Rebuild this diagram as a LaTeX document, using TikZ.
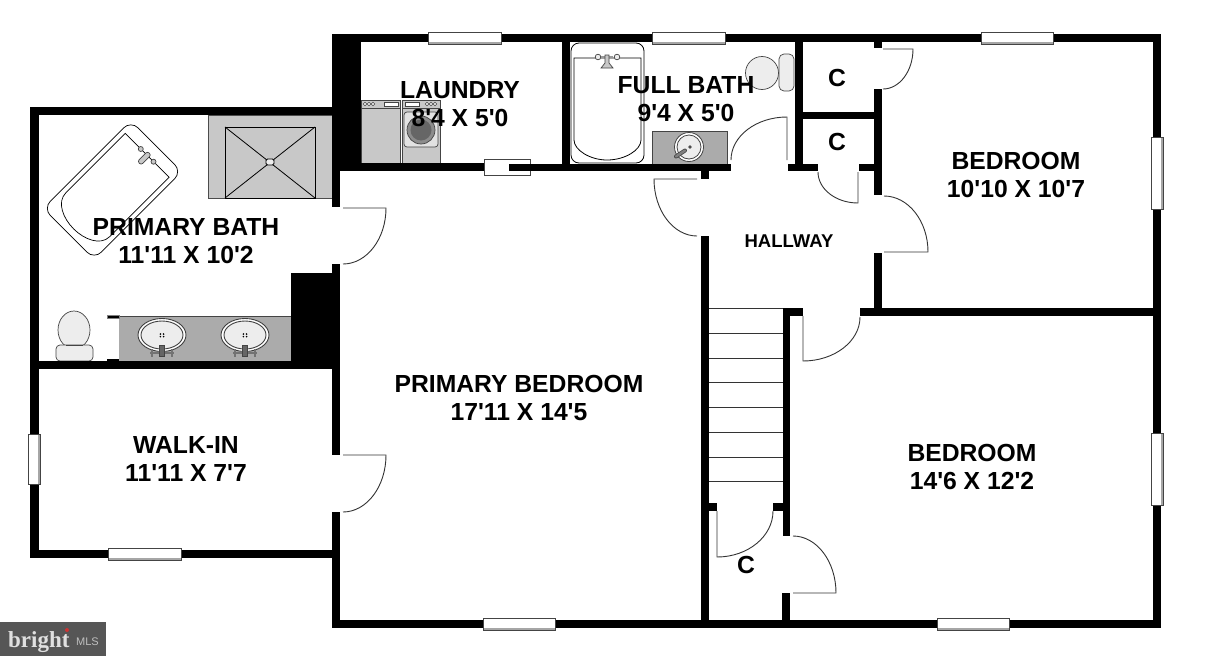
\documentclass[tikz,border=0pt]{standalone}
\usepackage{fontspec}
\setmainfont{Liberation Sans}
\newfontfamily\lblfont{Liberation Sans}
\newfontfamily\logofont{Liberation Serif}
\usetikzlibrary{calc}
\definecolor{fixgray}{HTML}{C8C8C8}
\definecolor{vangray}{HTML}{ABABAB}
\definecolor{porcelain}{HTML}{EDEDED}
\definecolor{outl}{HTML}{444444}
\definecolor{logobg}{HTML}{565656}
\tikzset{
  fixture/.style={draw=outl,line width=.7pt},
  thin fixture/.style={draw=black,line width=.8pt},
  doorline/.style={draw=black!80,line width=.9pt},
  roomlabel/.style={font=\lblfont\fontsize{24.7}{28}\selectfont\bfseries,align=center,text=black,inner sep=0pt},
  halllabel/.style={font=\lblfont\fontsize{18.5}{20}\selectfont\bfseries,text=black,inner sep=0pt},
}
\newcommand{\wall}[4]{\fill[black] (#1,#2) rectangle (#3,#4);}
\newcommand{\hwin}[3]{%
  \fill[white] (#1,#3-6) rectangle (#2,#3+6);
  \fill[gray!70] (#1,#3+4) rectangle (#2,#3+6);
  \draw[outl,line width=.7pt] (#1,#3-6) rectangle (#2,#3+6);}
\newcommand{\vwin}[3]{%
  \fill[white] (#3-6,#1) rectangle (#3+6,#2);
  \fill[gray!70] (#3+4,#1) rectangle (#3+6,#2);
  \draw[outl,line width=.7pt] (#3-6,#1) rectangle (#3+6,#2);}
\newcommand{\door}[4]{\draw[doorline] (#1) -- (#2) .. controls ($(#2)!0.552!(#3)$) and ($(#4)!0.552!(#3)$) .. (#4);}
\newcommand{\vansink}[1]{%
  \draw[fill=white,draw=black!75,line width=.9pt] (#1,335) ellipse [x radius=24,y radius=16.5];
  \draw[fill=porcelain,draw=black!75,line width=.9pt] (#1,335) ellipse [x radius=21,y radius=14];
  \fill[black] (#1-1.6,334) circle (.9) (#1+1.6,334) circle (.9) (#1-1.6,336.6) circle (.9) (#1+1.6,336.6) circle (.9);
  \draw[gray!90!black,line width=2pt] (#1-12,353) -- (#1+12,353);
  \draw[gray!90!black,line width=1.5pt] (#1-10,349) -- (#1-10,357) (#1+10,349) -- (#1+10,357);
  \fill[gray!80!black,draw=outl,line width=.5pt] (#1-2.5,345) rectangle (#1+2.5,356);}
\begin{document}
\begin{tikzpicture}[x=1pt,y=-1pt]
\useasboundingbox (0,0) rectangle (1215,656);
\fill[white] (0,0) rectangle (1215,656);

% --- shower ---
\fill[fixgray] (208,115) rectangle (332,198);
\draw[fixture,draw=black!70] (208,115) rectangle (332,198);
\draw[thin fixture] (225,127) rectangle (315,198);
\draw[thin fixture] (225,127) -- (315,198) (315,127) -- (225,198);
\draw[thin fixture,fill=porcelain,rounded corners=1.5pt] (266,159) rectangle (274,165);

% --- primary tub ---
\begin{scope}[shift={(112.5,190)},rotate=45]
  \draw[thin fixture,fill=white,rounded corners=10pt,line width=.7pt] (-62,-36) rectangle (62,36);
  \draw[thin fixture,line width=.7pt] (49,-31) -- (-35,-31) .. controls (-48,-31) and (-55,-15) .. (-55,0) .. controls (-55,15) and (-48,31) .. (-35,31) -- (49,31) -- cycle;
  \draw[fixture,fill=fixgray] (49,-9) circle (2.5) (49,9) circle (2.5);
  \draw[fixture,fill=fixgray,rounded corners=2pt] (38,-2.5) rectangle (52,2.5);
\end{scope}

% --- primary bath vanity and toilet ---
\fill[vangray] (119,316) rectangle (291,361);
\draw[outl,line width=.8pt] (119,316) -- (291,316);
\vansink{162}
\vansink{245}
\fill[black] (107,315) rectangle (119,318);
\fill[black] (107,359) rectangle (119,361);
\draw[gray,line width=.5pt] (107,315) rectangle (119,318);
\draw[fixture,fill=porcelain] (74,330) ellipse [x radius=16,y radius=19];
\draw[fixture,fill=porcelain,rounded corners=4pt] (56,345) rectangle (93,361);
\draw[fixture] (66,345) -- (83,345);

% --- laundry ---
\draw[fixture,fill=fixgray] (361,100) rectangle (400,163);
\draw[fixture] (361,100) rectangle (400,108);
\foreach \cx in {365,369,373} \draw[outl,line width=.5pt,fill=white] (\cx,104) circle (1.7);
\draw[outl,line width=.5pt,fill=white] (384,102) rectangle (398,106);
\draw[fixture,fill=fixgray] (402,100) rectangle (440,163);
\draw[fixture] (402,100) rectangle (440,108);
\foreach \cx in {427,431,435} \draw[outl,line width=.5pt,fill=white] (\cx,104) circle (1.7);
\draw[outl,line width=.5pt,fill=white] (405,102) rectangle (419,106);
\draw[fixture,fill=porcelain!70!fixgray,rounded corners=3pt] (404,112) rectangle (438,147);
\draw[fixture,fill=gray!90] (421,130) circle (14);
\fill[black!60] (421,130) circle (10.5);

% --- full bath ---
\draw[thin fixture,fill=white,rounded corners=8pt] (571,43) rectangle (644,163);
\draw[thin fixture] (574,58) -- (641,58) -- (641,140) .. controls (641,150) and (625,160) .. (607,160) .. controls (590,160) and (574,150) .. (574,140) -- cycle;
\draw[fixture,fill=porcelain] (598,57) circle (2.8) (617,57) circle (2.8);
\fill[gray!80] (601,56) rectangle (613,58);
\draw[fixture,fill=fixgray] (605,55) -- (609,55) -- (609,63) -- (613,68) -- (601,68) -- (605,63) -- cycle;
\fill[vangray] (652,131) rectangle (727,164);
\draw[outl,line width=.6pt] (652,131) rectangle (727,164);
\draw[outl,fill=white,line width=.8pt] (689,147) circle (14.5);
\draw[outl,fill=porcelain,line width=.8pt] (689,147) circle (12);
\fill[black!70] (690,147) circle (1.8);
\draw[outl,line width=4pt,line cap=round] (676,156.5) -- (685,150.5);
\draw[gray,line width=2.4pt,line cap=round] (676,156.5) -- (685,150.5);
\draw[fixture,fill=porcelain,rounded corners=5pt] (779,54) rectangle (794,91);
\draw[fixture,fill=porcelain] (762,73) ellipse [x radius=16.5,y radius=16.5];

% --- stairs ---
\foreach \sy in {308,333,358,382,407,432,457,481}
  \draw[black!80,line width=1pt] (709,\sy) -- (783,\sy);

% --- walls ---
\wall{332}{34}{1161}{42}
\wall{332}{34}{361}{165}
\wall{332}{163}{484}{171}
\wall{509}{164}{562}{171}
\wall{562}{34}{570}{171}
\wall{560}{164}{731}{171}
\wall{701}{171}{709}{179}
\wall{332}{165}{340}{207}
\wall{332}{264}{340}{455}
\wall{332}{512}{340}{628}
\wall{30}{107}{332}{115}
\wall{30}{107}{38.5}{558}
\wall{30}{361}{332}{369}
\wall{291}{273}{332}{361}
\wall{30}{550}{332}{557.5}
\wall{332}{620}{1161}{628}
\wall{1153}{34}{1161}{628}
\wall{795}{34}{803}{171}
\wall{803}{112}{874}{119}
\wall{874}{34}{882}{48}
\wall{874}{89}{882}{195}
\wall{874}{253}{882}{316}
\wall{860}{308}{1153}{316}
\wall{788}{164}{818}{171}
\wall{859}{164}{874}{171}
\wall{701}{236}{709}{620}
\wall{783}{308}{790}{536}
\wall{783}{308}{803}{316}
\wall{782}{593}{790}{620}
\wall{701}{503}{717}{511}
\wall{773}{503}{783}{511}

% --- sliding door at laundry ---
\draw[outl,line width=.7pt,fill=white] (484,159) rectangle (530.5,175);
\wall{509}{164}{530.5}{171}

% --- windows ---
\hwin{428}{501}{38}
\hwin{652}{725}{38}
\hwin{981}{1053}{38}
\hwin{483}{555}{624}
\hwin{937}{1009}{624}
\hwin{108}{181}{554}
\vwin{137}{209}{1157}
\vwin{433}{505}{1157}
\vwin{434}{484}{34}

% --- doors ---
\door{343,208}{386,208}{386,264}{343,264}
\door{343,455}{386,455}{386,512}{343,512}
\door{787,160}{787,117}{731,117}{731,160}
\door{697,179}{654,179}{654,236}{697,236}
\door{858,172}{858,203}{818,203}{818,172}
\door{883,49}{913,49}{913,89}{883,89}
\door{884,252}{928,252}{928,196}{884,196}
\door{803,316}{803,361}{860,361}{860,317}
\door{717,511}{717,557}{773,557}{773,511}
\door{793,593}{836,593}{836,536}{793,536}

% --- labels ---
\node[roomlabel] (laundry) at (460,104) {LAUNDRY\\8'4 X 5'0};
\node[roomlabel] (fullbath) at (686,99.5) {FULL BATH\\9'4 X 5'0};
\node[roomlabel] (primarybath) at (186,241) {PRIMARY BATH\\11'11 X 10'2};
\node[roomlabel] (bedroomone) at (1016,175) {BEDROOM\\10'10 X 10'7};
\node[roomlabel] (primarybedroom) at (519,398) {PRIMARY BEDROOM\\17'11 X 14'5};
\node[roomlabel] (walkin) at (186,458.5) {WALK-IN\\11'11 X 7'7};
\node[roomlabel] (bedroomtwo) at (972,466.5) {BEDROOM\\14'6 X 12'2};
\node[halllabel] (hallway) at (789,241) {HALLWAY};
\node[roomlabel] (closetone) at (837,78) {C};
\node[roomlabel] (closettwo) at (837,142) {C};
\node[roomlabel] (closetthree) at (746,565) {C};

% --- logo ---
\fill[logobg] (0,622) rectangle (106,656);
\node[font=\logofont\fontsize{23}{25}\selectfont\bfseries,text=black!12,anchor=base west,inner sep=0pt] (logobright) at (8,647) {bright};
\fill[red!60!gray] (67,630) circle (2);
\node[font=\fontsize{11}{11}\selectfont,text=black!25,anchor=base west,inner sep=0pt] (logomls) at (76,645) {MLS};
\end{tikzpicture}
\end{document}
